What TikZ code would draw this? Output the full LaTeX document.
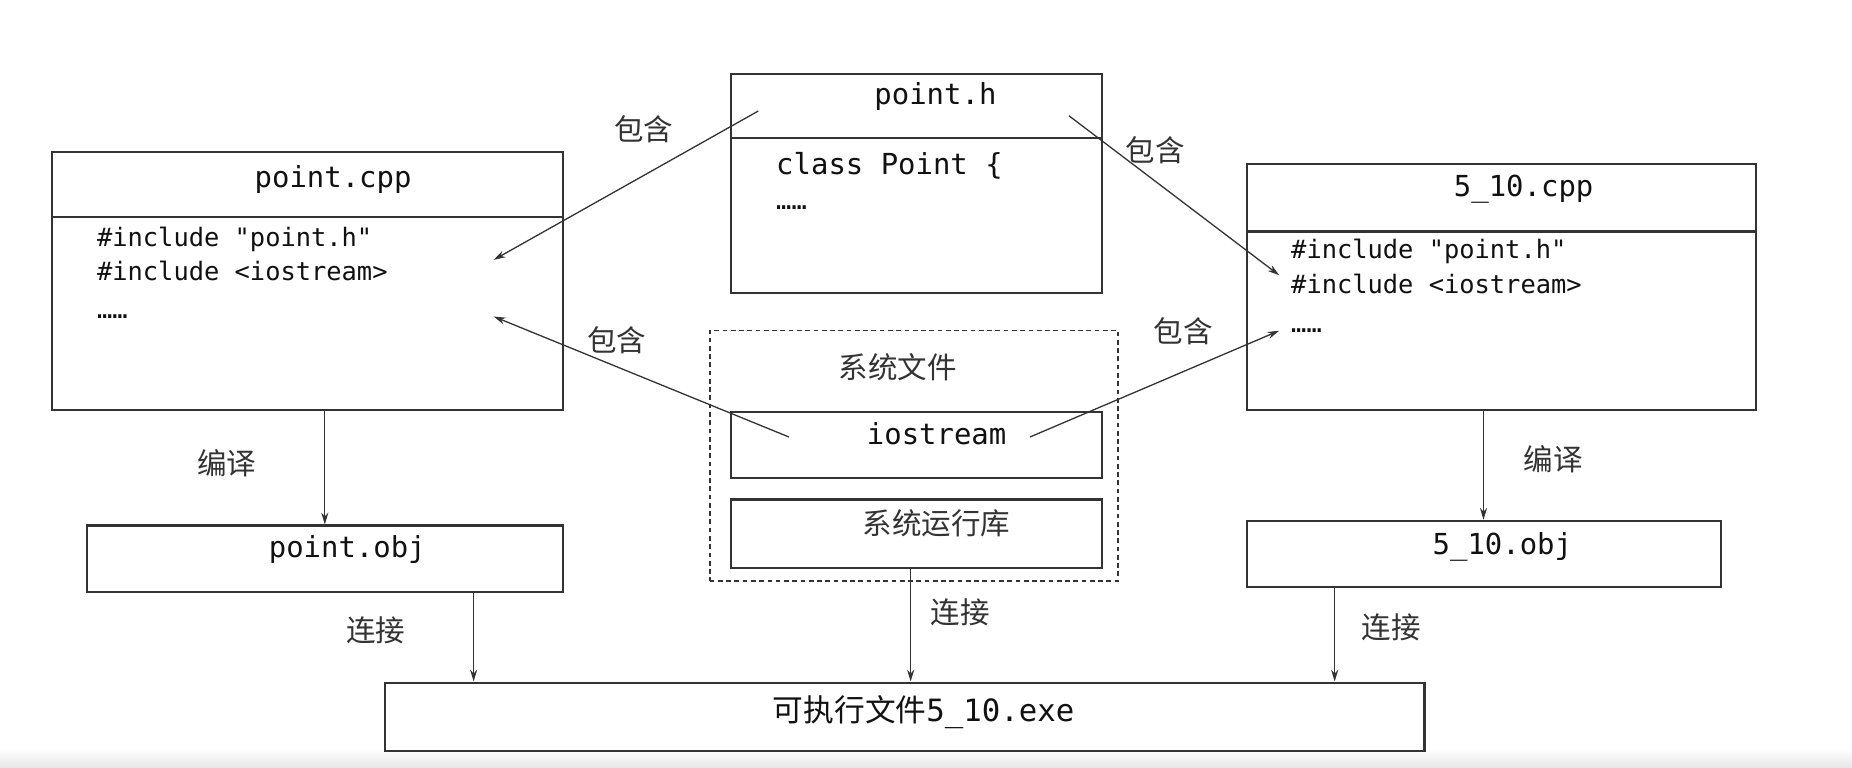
\documentclass[tikz,border=0pt]{standalone}
\usepackage{fontspec}
\setmonofont{DejaVu Sans Mono}
\newfontfamily\cjk{Noto Sans CJK SC}
\usetikzlibrary{arrows.meta}
\definecolor{ln}{HTML}{333333}
\definecolor{tx}{HTML}{111111}
\begin{document}
\begin{tikzpicture}[x=1pt,y=-1pt,
  box/.style={draw=ln, line width=1.9pt, rectangle, inner sep=0pt, anchor=north west},
  dbox/.style={draw=ln, line width=1.6pt, dash pattern=on 4pt off 3pt, rectangle, inner sep=0pt, anchor=north west},
  sep/.style={draw=ln, line width=1.9pt},
  arr/.style={draw=ln, line width=1.1pt, -{Stealth[length=10pt,width=6pt]}},
  ttl/.style={font=\fontsize{24.5}{28}\selectfont\ttfamily, text=tx, inner sep=0pt},
  code/.style={font=\fontsize{21.5}{26}\selectfont\ttfamily, text=tx, inner sep=0pt, anchor=west},
  lbl/.style={font=\fontsize{25}{28}\selectfont\cjk, text=ln, inner sep=0pt}]
\useasboundingbox (0,0) rectangle (1568,650);
\fill[white] (0,0) rectangle (1568,650);
\shade[top color=white, bottom color=black!10] (0,634) rectangle (1568,650);

% boxes
\node[box, minimum width=433pt, minimum height=218pt] (pcpp) at (43,128) {};
\node[box, minimum width=314pt, minimum height=185pt] (ph) at (618,62) {};
\node[box, minimum width=431pt, minimum height=208pt] (mcpp) at (1055,138) {};
\node[dbox, minimum width=346pt, minimum height=212pt] (sys) at (600,279) {};
\node[box, minimum width=314pt, minimum height=56pt] (ios) at (618,348) {};
\node[box, minimum width=314pt, minimum height=58pt] (lib) at (618,422) {};
\node[box, minimum width=403pt, minimum height=56pt] (pobj) at (73,444) {};
\node[box, minimum width=401pt, minimum height=56pt] (mobj) at (1055,440) {};
\node[box, minimum width=880pt, minimum height=58pt] (exe) at (325,577) {};

% header separators
\draw[sep] (pcpp.west |- 0,184) -- (pcpp.east |- 0,184);
\draw[sep] (ph.west |- 0,117) -- (ph.east |- 0,117);
\draw[sep] (mcpp.west |- 0,196) -- (mcpp.east |- 0,196);

% titles and contents
\node[ttl] (t1) at (282,152) {point.cpp};
\node[code] (c11) at (82,203) {\#include "point.h"};
\node[code] (c12) at (82,229) {\#include <iostream>};
\node[code] (c13) at (82,268) {……};

\node[ttl] (t2) at (792,82) {point.h};
\node[ttl, anchor=west] (c21) at (657,140) {class Point \{};
\node[code] (c22) at (657,176) {……};

\node[ttl] (t3) at (1290,160) {5\_10.cpp};
\node[code] (c31) at (1093,213) {\#include "point.h"};
\node[code] (c32) at (1093,240) {\#include <iostream>};
\node[code] (c33) at (1093,280) {……};

\node[lbl] (t4) at (760,311) {系统文件};
\node[ttl] (t5) at (793,367) {iostream};
\node[lbl] (t6) at (793,443) {系统运行库};
\node[ttl] (t7) at (294,465) {point.obj};
\node[ttl] (t8) at (1272,463) {5\_10.obj};
\node[inner sep=0pt, text=tx] (t9) at (782,603) {\fontsize{26}{30}\selectfont\cjk 可执行文件\ttfamily 5\_10.exe};

% arrow endpoints
\coordinate (phL) at (642,94);
\coordinate (phR) at (905,98);
\coordinate (pcA) at (418,220);
\coordinate (pcB) at (418,268);
\coordinate (mcA) at (1083,233);
\coordinate (mcB) at (1083,280);
\coordinate (ioL) at (668,370);
\coordinate (ioR) at (872,370);

\draw[arr] (phL) -- (pcA);
\draw[arr] (phR) -- (mcA);
\draw[arr] (ioL) -- (pcB);
\draw[arr] (ioR) -- (mcB);

\draw[arr] (pcpp.south -| 275,0) -- (pobj.north -| 275,0);
\draw[arr] (mcpp.south -| 1256,0) -- (mobj.north -| 1256,0);
\draw[arr] (pobj.south -| 401,0) -- (exe.north -| 401,0);
\draw[arr] (lib.south -| 771,0) -- (exe.north -| 771,0);
\draw[arr] (mobj.south -| 1130,0) -- (exe.north -| 1130,0);

% labels
\node[lbl] (l1) at (545,109) {包含};
\node[lbl] (l2) at (978,127) {包含};
\node[lbl] (l3) at (522,288) {包含};
\node[lbl] (l4) at (1002,280) {包含};
\node[lbl] (l5) at (192,392) {编译};
\node[lbl] (l6) at (1315,389) {编译};
\node[lbl] (l7) at (318,534) {连接};
\node[lbl] (l8) at (813,518) {连接};
\node[lbl] (l9) at (1178,531) {连接};
\end{tikzpicture}
\end{document}
